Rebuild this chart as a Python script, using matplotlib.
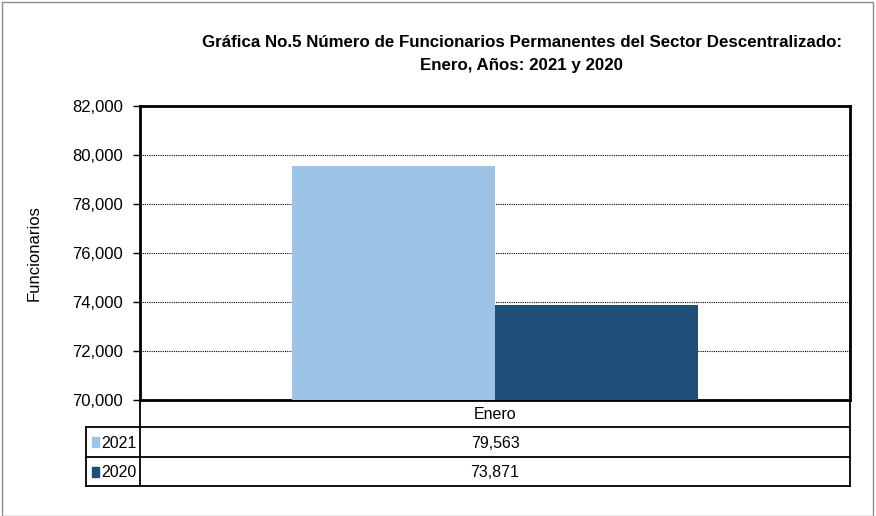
import numpy as np
import matplotlib.pyplot as plt
from matplotlib.patches import Rectangle
from matplotlib.lines import Line2D
from matplotlib.ticker import FuncFormatter

# Datos
categorias = ['Enero']
anios = ['2021', '2020']
valores = [79563, 73871]
colores = ['#9DC3E6', '#1F4E79']

titulo = ('Gráfica No.5 Número de Funcionarios Permanentes del Sector Descentralizado:\n'
          'Enero, Años: 2021 y 2020')

W, H = 876, 516
narrow = ['Liberation Sans Narrow', 'Liberation Sans', 'DejaVu Sans']
arial = ['Liberation Sans', 'DejaVu Sans']

fig = plt.figure(figsize=(W / 100, H / 100), dpi=100)

# borde exterior de la figura
fig.add_artist(Rectangle((1.5 / W, 0.5 / H), 1 - 5 / W, 1 - 2 / H, transform=fig.transFigure,
                         fill=False, edgecolor='#8C8C8C', linewidth=1))

# eje principal (pixeles: x 140-850, y 106-400)
ax = fig.add_axes([140 / W, 1 - 400 / H, 710 / W, 294 / H])
ancho = 0.286
offs = [-0.143, 0.143]
for i, (a, v, c) in enumerate(zip(anios, valores, colores)):
    ax.bar(offs[i], v, width=ancho, color=c, zorder=3)

ax.set_xlim(-0.5, 0.5)
ax.set_ylim(70000, 82000)
ax.set_yticks(np.arange(70000, 82001, 2000))
ax.yaxis.set_major_formatter(FuncFormatter(lambda v, p: f'{int(v):,}'))
ax.set_xticks([])
ax.grid(axis='y', color='black', linestyle=(0, (1, 1)), linewidth=0.8, zorder=1)
for s in ax.spines.values():
    s.set_linewidth(2)
ax.tick_params(axis='y', length=5, width=1, labelsize=12, pad=7)
for lbl in ax.get_yticklabels():
    lbl.set_family(arial)
ax.set_ylabel('Funcionarios', fontsize=12, family=arial, labelpad=22)

fig.text(522 / W, 1 - 54 / H, titulo, ha='center', va='center', fontsize=12.2,
         fontweight='bold', family=narrow, linespacing=1.65)

# tabla de datos debajo del grafico
tab = fig.add_axes([0, 0, 1, 1], zorder=-1)
tab.set_xlim(0, W)
tab.set_ylim(H, 0)
tab.axis('off')
x0, x1, x2 = 86, 140, 850
filas = [400, 427, 457, 486]
lw = 1.3
tab.add_line(Line2D([x1, x1], [filas[0], filas[3]], color='black', lw=lw))
tab.add_line(Line2D([x2, x2], [filas[0], filas[3]], color='black', lw=lw))
tab.add_line(Line2D([x0, x0], [filas[1], filas[3]], color='black', lw=lw))
for y in filas[1:]:
    tab.add_line(Line2D([x0, x2], [y, y], color='black', lw=lw))

tab.text((x1 + x2) / 2, (filas[0] + filas[1]) / 2 + 1, categorias[0], ha='center', va='center',
         fontsize=11.5, family=narrow)
for i, (a, v, c) in enumerate(zip(anios, valores, colores)):
    yc = (filas[i + 1] + filas[i + 2]) / 2
    tab.add_patch(Rectangle((x0 + 6, yc - 5), 7, 10, color=c))
    tab.text(x0 + 15, yc + 1, a, ha='left', va='center', fontsize=11.5, family=narrow)
    tab.text((x1 + x2) / 2, yc + 1, f'{v:,}', ha='center', va='center', fontsize=11.5, family=narrow)

fig.savefig('out.png', dpi=100)
